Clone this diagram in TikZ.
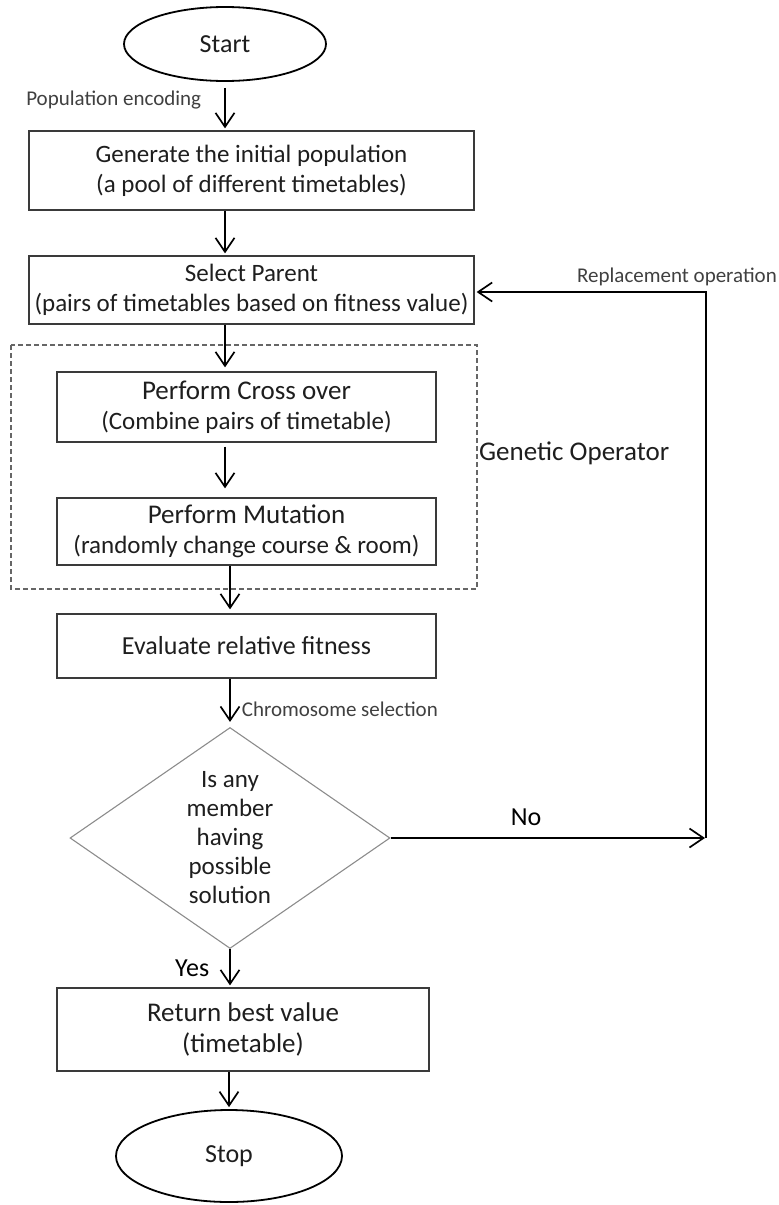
\documentclass[tikz,border=0pt]{standalone}
\usepackage{fontspec}
\setmainfont{Carlito}
\usetikzlibrary{positioning,arrows.meta,shapes.geometric}
\definecolor{fcline}{HTML}{3A3A3A}
\definecolor{fcdiam}{HTML}{8C8C8C}
\definecolor{fcdash}{HTML}{666666}
\definecolor{fctext}{HTML}{1E1E1E}
\definecolor{fcnote}{HTML}{404040}
\begin{document}
\begin{tikzpicture}[x=1pt,y=-1pt,
  term/.style={ellipse,draw=black,line width=1.8pt,inner sep=0pt,text=fctext,font=\fontsize{26}{31}\selectfont},
  proc/.style={rectangle,draw=fcline,line width=1.3pt,inner sep=0pt,align=center,text=fctext,font=\fontsize{25}{30}\selectfont},
  decn/.style={diamond,draw=fcdiam,line width=1.1pt,inner sep=0pt,aspect=1.45,align=center,text=fctext,font=\fontsize{25}{29}\selectfont},
  arr/.style={-{Straight Barb[length=14pt,width=19pt]},line width=1.7pt,shorten >=2pt},
  note/.style={text=fcnote,inner sep=0pt,font=\fontsize{21}{25}\selectfont},
  gframe/.style={draw=fcdash,line width=1.2pt,dash pattern=on 5pt off 3pt}]
\useasboundingbox (0,0) rectangle (779,1205);
% main column
\node[term,minimum width=202pt,minimum height=74pt] (start) at (225,44) {Start};
\node[proc,minimum width=445pt,minimum height=79pt] (gen) at (251.5,170.5) {Generate the initial population\\(a pool of different timetables)};
\node[proc,minimum width=445pt,minimum height=68pt] (sel) at (251.5,290) {Select Parent\\(pairs of timetables based on fitness value)};
\node[proc,minimum width=379pt,minimum height=70pt] (cross) at (246.5,407) {{\fontsize{27}{33}\selectfont Perform Cross over}\\(Combine pairs of timetable)};
\node[proc,minimum width=379pt,minimum height=67pt] (mut) at (246.5,531.5) {{\fontsize{27}{33}\selectfont Perform Mutation}\\(randomly change course \& room)};
\node[proc,minimum width=379pt,minimum height=64pt,font=\fontsize{26}{30}\selectfont] (eval) at (246.5,646) {Evaluate relative fitness};
\node[decn,minimum width=320pt,minimum height=221pt] (dec) at (230,838) {Is any\\member\\having\\possible\\solution};
\node[proc,minimum width=372pt,minimum height=83pt,font=\fontsize{27}{31}\selectfont] (ret) at (243,1029.5) {Return best value\\(timetable)};
\node[term,minimum width=226pt,minimum height=92pt] (stop) at (229,1156) {Stop};
% genetic operator frame
\draw[gframe] (11,345) rectangle (477,589);
\node[anchor=west,inner sep=0pt,text=fctext,font=\fontsize{27}{32}\selectfont] (genop) at (479,453) {Genetic Operator};
% arrows
\draw[arr,shorten <=6pt] (start) -- node[note,pos=0.38,left=23pt]{Population encoding} (start |- gen.north);
\draw[arr] (gen.south -| start) -- (sel.north -| start);
\draw[arr,shorten >=4pt] (sel.south -| start) -- (cross.north -| start);
\draw[arr,shorten <=4pt,shorten >=9pt] (cross.south -| start) -- (mut.north -| start);
\draw[arr,shorten >=4pt] (mut.south -| dec) -- (eval.north -| dec);
\draw[arr,shorten >=5pt] (eval.south -| dec) -- node[note,pos=0.64,right=11pt]{Chromosome selection} (dec.north);
\draw[arr] (dec.south) -- node[midway,left=20pt,inner sep=0pt,font=\fontsize{26}{31}\selectfont]{Yes} (dec.south |- ret.north);
\draw[arr] (ret.south -| stop) -- (stop.north);
% replacement loop
\coordinate (nocorner) at (706,838);
\coordinate (repcorner) at (706,292);
\draw[arr,shorten >=1pt] (dec.east) -- node[pos=0.43,above=11pt,inner sep=0pt,font=\fontsize{26}{31}\selectfont]{No} (nocorner);
\draw[arr] (nocorner) -- (repcorner) -- (repcorner -| sel.east);
\node[note,anchor=east] (repl) at (777,277) {Replacement operation};
\end{tikzpicture}
\end{document}
